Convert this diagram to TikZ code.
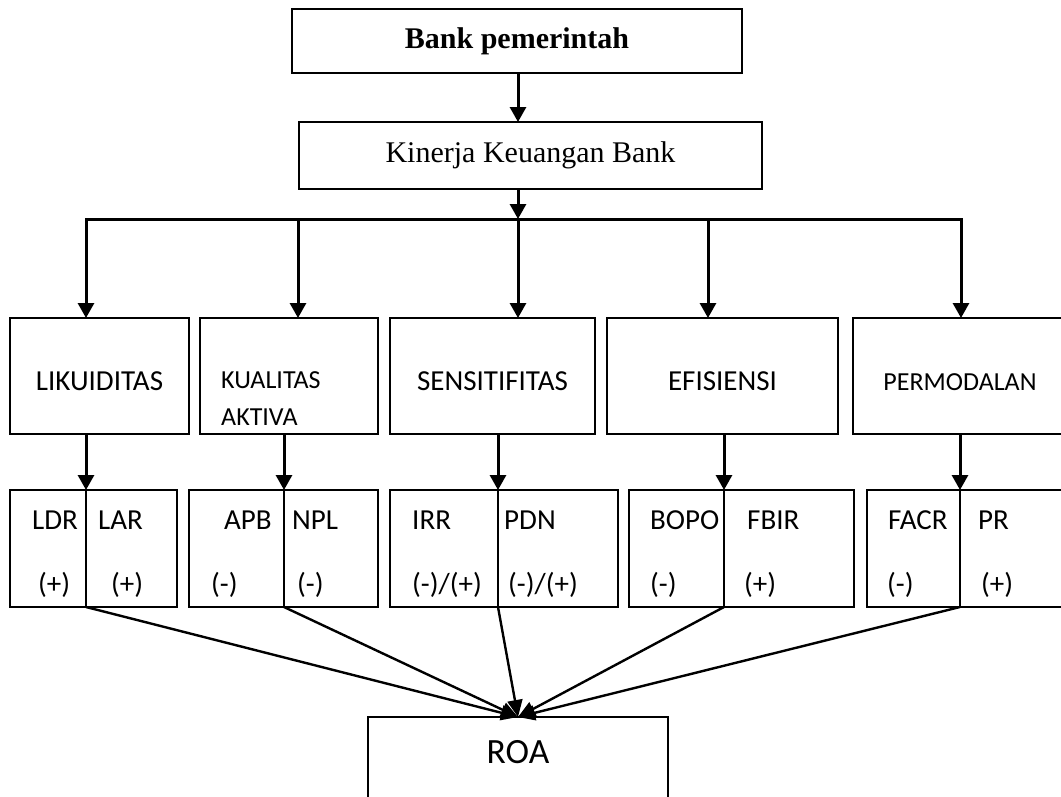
\documentclass[tikz,border=0pt]{standalone}
\usepackage{fontspec}
\setmainfont{Liberation Serif}
\newfontfamily\calibri{Carlito}
\usepackage{tikz}
\usetikzlibrary{arrows.meta}
\tikzset{
    box/.style = {rectangle, draw=black, line width=2pt, inner sep=0pt, outer sep=0pt},
    topbox/.style = {box, font=\bfseries\fontsize{30}{36}\selectfont},
    midbox/.style = {box, font=\fontsize{30}{36}\selectfont},
    ratbox/.style = {box, minimum height=116pt, text height=28pt, text depth=0pt, font=\calibri\fontsize{29}{35}\selectfont},
    cellbox/.style = {box, line width=1.8pt, minimum height=117pt},
    celltext/.style = {anchor=base west, inner sep=0pt, font=\calibri\fontsize{29}{35}\selectfont},
    arr/.style = {line width=3pt, -{Triangle[width=16pt,length=15pt]}},
    arrd/.style = {line width=2.4pt, -{Triangle[width=15pt,length=17pt]}}
}
\begin{document}
\begin{tikzpicture}[x=1pt, y=-1pt]
\useasboundingbox (0,0) rectangle (1061,796);
\clip (0,0) rectangle (1061,796);
% top of the tree
\node[topbox, minimum width=450pt, minimum height=64pt] at (517,41) (bank) {Bank pemerintah};
\node[midbox, minimum width=463pt, minimum height=67pt] at (530.5,155.5) (kinerja) {Kinerja Keuangan Bank};
%
\node[ratbox, minimum width=179pt] at (99.5,376) (likuid) {LIKUIDITAS};
\node[ratbox, minimum width=178pt] at (289,376) (kualitas) {};
\node[anchor=north west, align=left, inner sep=0pt, font=\calibri\fontsize{26}{37}\selectfont] at (221,371) (tkualitas) {KUALITAS\\AKTIVA};
\node[ratbox, minimum width=205pt] at (492.5,376) (sensi) {SENSITIFITAS};
\node[ratbox, minimum width=231pt] at (722.5,376) (efis) {EFISIENSI};
\node[ratbox, minimum width=214pt, font=\calibri\fontsize{26}{32}\selectfont] at (960,376) (permod) {PERMODALAN};
% ratio cells
\node[cellbox, minimum width=76pt] at (48,548.5) (ldr) {};
\node[cellbox, minimum width=91pt] at (131.5,548.5) (lar) {};
\node[cellbox, minimum width=95pt] at (236.5,548.5) (apb) {};
\node[cellbox, minimum width=94pt] at (331,548.5) (npl) {};
\node[cellbox, minimum width=108pt] at (444,548.5) (irr) {};
\node[cellbox, minimum width=120pt] at (558,548.5) (pdn) {};
\node[cellbox, minimum width=95pt] at (676.5,548.5) (bopo) {};
\node[cellbox, minimum width=130pt] at (789,548.5) (fbir) {};
\node[cellbox, minimum width=93pt] at (913.5,548.5) (facr) {};
\node[cellbox, minimum width=110pt] at (1015,548.5) (pr) {};
%
\node[celltext] at (32,529) (nldr) {LDR};
\node[celltext] at (38,593) (sldr) {(+)};
\node[celltext] at (98,529) (nlar) {LAR};
\node[celltext] at (111,593) (slar) {(+)};
\node[celltext] at (224,529) (napb) {APB};
\node[celltext] at (211,593) (sapb) {(-)};
\node[celltext] at (292,529) (nnpl) {NPL};
\node[celltext] at (297,593) (snpl) {(-)};
\node[celltext] at (412,529) (nirr) {IRR};
\node[celltext] at (412,593) (sirr) {(-)/(+)};
\node[celltext] at (504,529) (npdn) {PDN};
\node[celltext] at (508,593) (spdn) {(-)/(+)};
\node[celltext] at (650,529) (nbopo) {BOPO};
\node[celltext] at (650,593) (sbopo) {(-)};
\node[celltext] at (747,529) (nfbir) {FBIR};
\node[celltext] at (744,593) (sfbir) {(+)};
\node[celltext] at (888,529) (nfacr) {FACR};
\node[celltext] at (887,593) (sfacr) {(-)};
\node[celltext] at (978,529) (npr) {PR};
\node[celltext] at (981,593) (spr) {(+)};
%
\node[box, minimum width=300pt, minimum height=83pt, text depth=14pt, font=\calibri\fontsize{35.5}{42}\selectfont] at (518,758.5) (roa) {ROA};
% connectors
\coordinate (hub) at (518,219);
\coordinate (d1) at (86,219);
\coordinate (d2) at (298,219);
\coordinate (d4) at (708,219);
\coordinate (d5) at (961,219);
\draw[arr] (hub |- bank.south) -- (hub |- kinerja.north);
\draw[arr] (hub |- kinerja.south) -- (hub);
\draw[arr] (hub) -| (d1 |- likuid.north);
\draw[arr] (hub) -| (d2 |- kualitas.north);
\draw[arr] (hub) -- (hub |- sensi.north);
\draw[arr] (hub) -| (d4 |- efis.north);
\draw[arr] (hub) -| (d5 |- permod.north);
%
\draw[arr] (ldr.north east |- likuid.south) -- (ldr.north east);
\draw[arr] (npl.north west |- kualitas.south) -- (npl.north west);
\draw[arr] (pdn.north west |- sensi.south) -- (pdn.north west);
\draw[arr] (fbir.north west |- efis.south) -- (fbir.north west);
\draw[arr] (pr.north west |- permod.south) -- (pr.north west);
%
\draw[arrd] (ldr.south east) -- (roa.north);
\draw[arrd] (npl.south west) -- (roa.north);
\draw[arrd] (pdn.south west) -- (roa.north);
\draw[arrd] (fbir.south west) -- (roa.north);
\draw[arrd] (pr.south west) -- (roa.north);
\end{tikzpicture}
\end{document}
